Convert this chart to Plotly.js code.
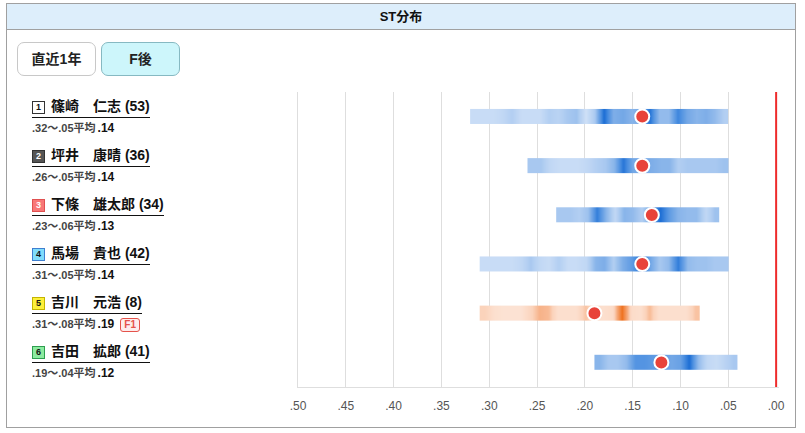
<!DOCTYPE html>
<html><head><meta charset="utf-8">
<script src="https://cdn.plot.ly/plotly-3.0.1.min.js"></script>
<style>
body{margin:0;background:#fff;font-family:"Liberation Sans","Noto Sans CJK JP",sans-serif;}
#wrap{position:relative;width:805px;height:433px;overflow:hidden;}
#frame{position:absolute;left:6px;top:3px;width:790px;height:425px;border:1px solid #a0a0a0;box-sizing:border-box;}
#head{position:absolute;left:0;top:0;width:100%;height:26px;background:#ddeefb;border-bottom:1px solid #a0a0a0;box-sizing:border-box;text-align:center;font-weight:bold;font-size:13px;line-height:25px;color:#111;}
.btn{position:absolute;top:42px;height:34px;width:79px;box-sizing:border-box;border-radius:7px;text-align:center;line-height:32px;font-weight:bold;font-size:14px;color:#222;}
#b1{left:17px;background:#fff;border:1px solid #c8c8c8;}
#b2{left:101px;background:#cdf6fb;border:1px solid #86b9c2;}
#chart{position:absolute;left:0;top:0;width:805px;height:433px;}
.lrow{position:absolute;left:32px;}
.lnm{display:inline-block;font-weight:bold;font-size:14px;color:#111;border-bottom:1.5px solid #111;padding-bottom:2px;white-space:nowrap;line-height:17px;}
.lbd{display:inline-block;width:11px;height:11px;font-size:9px;line-height:11px;text-align:center;font-weight:bold;margin-right:6px;vertical-align:1px;border:1px solid #333;}
.lsub{font-size:11px;font-weight:bold;color:#444;margin-top:3px;white-space:nowrap;line-height:14px;}
.lsub b{color:#111;font-size:12px;margin-left:2px;}
.lf{display:inline-block;margin-left:6px;border:1px solid #e5534b;color:#e5534b;background:#fdecec;border-radius:3px;font-size:10px;padding:0 3px;line-height:12px;}
</style></head>
<body>
<div id="wrap">
  <div id="frame"><div id="head">ST分布</div></div>
  <div class="btn" id="b1">直近1年</div>
  <div class="btn" id="b2">F後</div>
  <div id="chart"></div>
  <div id="labels"></div>
</div>
<script>
// ---- data ----
const racerNames = ['篠崎　仁志','坪井　康晴','下條　雄太郎','馬場　貴也','吉川　元浩','吉田　拡郎'];
const raceCounts = [53, 36, 34, 42, 8, 41];
const stMin = [0.32, 0.26, 0.23, 0.31, 0.31, 0.19];
const stMax = [0.05, 0.05, 0.06, 0.05, 0.08, 0.04];
const stAvg = [0.14, 0.14, 0.13, 0.14, 0.19, 0.12];
const fCounts = [0, 0, 0, 0, 1, 0];
// relative density of starts at each .01 from min to max
const dens1 = [0.15,0.15,0.15,0.2,0.3,0.15,0.15,0.15,0.3,0.25,0.35,0.4,0.1,0.35,1.0,0.55,0.6,0.5,0.6,0.95,0.45,0.45,0.85,0.6,0.5,0.55,0.45,0.3];
const dens2 = [0.35,0.35,0.2,0.15,0.15,0.15,0.2,0.3,0.35,0.5,0.95,0.6,0.6,0.55,0.5,0.5,0.3,0.35,0.35,0.35,0.35,0.4];
const dens3 = [0.35,0.35,0.3,0.4,0.9,0.5,0.2,0.5,0.45,0.3,0.6,1.0,0.7,0.5,0.45,0.45,0.2,0.4];
const dens4 = [0.15,0.15,0.15,0.15,0.2,0.35,0.2,0.15,0.3,0.15,0.15,0.2,0.5,0.55,0.3,0.55,0.7,1.0,0.6,0.35,0.45,0.9,0.45,0.4,0.4,0.35,0.35];
const dens5 = [0.35,0.15,0.1,0.1,0.1,0.3,0.55,0.5,0.15,0.15,0.15,0.45,0.2,0.15,0.2,1.0,0.2,0.15,0.5,0.15,0.15,0.15,0.15,0.45];
const dens6 = [0.5,0.35,0.35,0.45,0.75,0.75,0.7,0.7,0.6,0.65,1.0,0.45,0.2,0.15,0.25,0.35];
const densities = [dens1, dens2, dens3, dens4, dens5, dens6];
const tickVals = [0.5,0.45,0.4,0.35,0.3,0.25,0.2,0.15,0.1,0.05,0];
const tickText = ['.50','.45','.40','.35','.30','.25','.20','.15','.10','.05','.00'];
const flyingX = 0;

const badgeStyle = [
  {bg:'#ffffff', fg:'#111', bd:'#333'},
  {bg:'#555555', fg:'#fff', bd:'#333'},
  {bg:'#f87777', fg:'#fff', bd:'#e05050'},
  {bg:'#80dcfb', fg:'#111', bd:'#3f7fd0'},
  {bg:'#fdf03a', fg:'#111', bd:'#c4b400'},
  {bg:'#8ceba0', fg:'#111', bd:'#2e9e4f'}
];
const blueScale = [[0,'#dde9f9'],[0.3,'#b3cff2'],[0.55,'#7eaee8'],[0.8,'#4a8ee0'],[1,'#1b6dd4']];
const orangeScale = [[0,'#fde8dc'],[0.35,'#fbd3bb'],[0.6,'#f6aa7c'],[1,'#ef7220']];

const traces = [];
densities.forEach((d, i) => {
  const n = d.length;
  const xe = [];
  for (let k = 0; k <= n; k++) xe.push(stMin[i] + (stMax[i] - stMin[i]) * k / n);
  traces.push({
    type:'heatmap', x:xe, y:[i-0.155, i, i+0.155], z:[d, d],
    zmin:0, zmax:1, zsmooth:'best', showscale:false, hoverinfo:'skip',
    colorscale: fCounts[i] > 0 ? orangeScale : blueScale
  });
});
traces.push({
  type:'scatter', mode:'markers', x:stAvg, y:racerNames.map((_, i) => i),
  marker:{color:'#e8433a', size:14, line:{color:'#fff', width:2}},
  hoverinfo:'skip', showlegend:false
});

const layout = {
  width:805, height:433,
  margin:{l:298, r:26, t:92, b:46},
  paper_bgcolor:'rgba(0,0,0,0)', plot_bgcolor:'rgba(0,0,0,0)',
  showlegend:false,
  xaxis:{range:[0.5, -0.003], tickvals:tickVals, ticktext:tickText, showgrid:true,
         gridcolor:'#dedede', gridwidth:1, zeroline:false, showline:true, linecolor:'#dedede',
         ticks:'outside', ticklen:8, tickcolor:'rgba(0,0,0,0)',
         tickfont:{family:'Liberation Sans, sans-serif', size:12, color:'#555'}, fixedrange:true},
  yaxis:{range:[5.5, -0.5], showgrid:false, zeroline:false, showline:true, linecolor:'#dedede', ticks:'',
         showticklabels:false, fixedrange:true},
  shapes:[{type:'line', xref:'x', yref:'paper', x0:flyingX, x1:flyingX, y0:0, y1:1,
           line:{color:'#ee2b2b', width:2}, layer:'above'}]
};
Plotly.newPlot('chart', traces, layout, {staticPlot:true, displayModeBar:false});

// ---- left labels ----
const lab = document.getElementById('labels');
racerNames.forEach((nm, i) => {
  const s = badgeStyle[i];
  const div = document.createElement('div');
  div.className = 'lrow';
  div.style.top = (97 + 49 * i) + 'px';
  const fmt = v => '.' + String(Math.round(v * 100)).padStart(2, '0');
  div.innerHTML =
    '<div class="lnm"><span class="lbd" style="background:' + s.bg + ';color:' + s.fg + ';border-color:' + s.bd + '">' + (i + 1) + '</span>' +
    nm + ' (' + raceCounts[i] + ')</div>' +
    '<div class="lsub">' + fmt(stMin[i]) + '〜' + fmt(stMax[i]) + '平均<b>' + fmt(stAvg[i]) + '</b>' +
    (fCounts[i] > 0 ? '<span class="lf">F' + fCounts[i] + '</span>' : '') + '</div>';
  lab.appendChild(div);
});
</script>
</body></html>
